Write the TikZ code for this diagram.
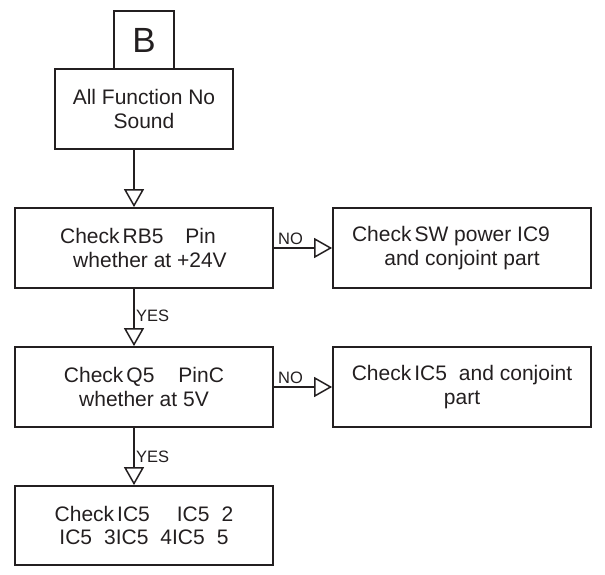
\documentclass[tikz,border=0pt]{standalone}
\usepackage{fontspec}
\setmainfont{Liberation Sans}
\usetikzlibrary{arrows.meta,calc}
\definecolor{ink}{HTML}{231F20}
\begin{document}
\begin{tikzpicture}[x=1pt,y=-1pt,
  box/.style={draw=ink,line width=1.8pt,text=ink,align=center,inner sep=0pt,
    minimum width=258pt,minimum height=80pt,font=\fontsize{21}{23.5}\selectfont},
  arr/.style={draw=ink,line width=1.5pt,-{Triangle[open,length=18pt,width=20pt,line width=1.5pt]}},
  lbl/.style={text=ink,inner sep=0pt,font=\fontsize{16.5}{18}\selectfont}]
\useasboundingbox (0,0) rectangle (605,575);
\node[box,minimum width=60pt,minimum height=58pt,font=\fontsize{35}{38}\selectfont] (bb) at (144,40) {B};
\node[box,minimum width=178pt] (af) at (144,109) {All Function No\\ Sound};
\node[box] (b2) at (144,248) {Check\hspace{3pt}RB5\hspace{22pt}Pin\kern12pt\\ \kern12pt whether at +24V};
\node[box] (r1) at (462,248) {Check\hspace{3pt}SW power IC9\kern22pt\\ and conjoint part};
\node[box] (b3) at (144,387) {Check\hspace{3pt}Q5\hspace{24pt}PinC\\ whether at 5V};
\node[box] (r2) at (462,387) {Check\hspace{3pt}IC5\hspace{12pt}and conjoint\\ part};
\node[box,minimum height=79pt] (b4) at (144,525.5) {Check\hspace{3pt}IC5\hspace{27pt}IC5\hspace{12pt}2\\ IC5\hspace{12pt}3IC5\hspace{12pt}4IC5\hspace{12pt}5};
\draw[arr] ([xshift=-10pt]af.south) -- ([xshift=-10pt]b2.north);
\draw[arr] ([xshift=-10pt]b2.south) -- ([xshift=-10pt]b3.north);
\draw[arr] ([xshift=-10pt]b3.south) -- ([xshift=-10pt]b4.north);
\draw[arr] (b2.east) -- (r1.west);
\draw[arr] (b3.east) -- (r2.west);
\node[lbl,anchor=base west] (y1) at ($(b3.north)+(-8,-25)$) {YES};
\node[lbl,anchor=base west] (y2) at ($(b4.north)+(-8,-23)$) {YES};
\node[lbl,anchor=base west] (n1) at ($(b2.east)+(4,-4)$) {NO};
\node[lbl,anchor=base west] (n2) at ($(b3.east)+(4,-4)$) {NO};
\end{tikzpicture}
\end{document}
